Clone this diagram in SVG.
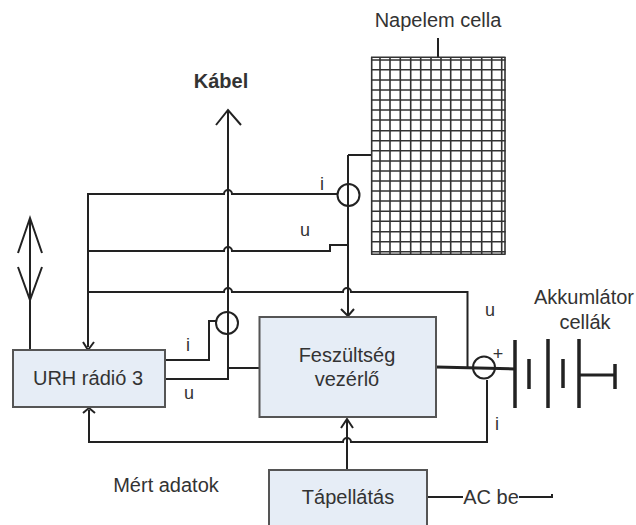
<svg xmlns="http://www.w3.org/2000/svg" width="636" height="525" viewBox="0 0 636 525">
<defs>
<style>
text{font-family:"Liberation Sans",Arial,sans-serif;font-size:20px;fill:#333;text-anchor:middle}
.s{font-size:18px}
.box{fill:#e6edf6;stroke:#555;stroke-width:2}
.w{fill:none;stroke:#222;stroke-width:2}
.g{fill:none;stroke:#333;stroke-width:1.600}
.p{fill:none;stroke:#222;stroke-width:3}
.c{fill:none;stroke:#222;stroke-width:2}
</style>
</defs>
<rect width="636" height="525" fill="#fff"/>
<g id="connectors">
<path class="w" d="M228 110V368H259M165 379H228V368M165 360H209V321H216"/>
<path class="w" d="M216 125L228 110L241 125"/>
<path class="w" d="M88 347V194H224a4 4 0 0 1 8 0H337"/>
<path class="w" d="M89 251H224a4 4 0 0 1 8 0H330V245H348"/>
<path class="w" d="M89 292H224a4 4 0 0 1 8 0H343a4 4 0 0 1 8 0H467.500V367"/>
<path class="w" d="M348 155H372M348 155V316"/>
<path class="w" d="M83 342L88 350L94 342"/>
<path class="w" d="M341 309L348 316L354 309"/>
<path class="w" d="M30 350V218"/>
<path class="w" d="M18 253L30 218L42 253M18 267L30 300L42 267"/>
<path class="w" d="M89 410V442H343a4 4 0 0 1 8 0H487V380"/>
<path class="w" d="M83 413L89 408L95 413"/>
<path class="w" d="M347 470V419"/>
<path class="w" d="M341 428L347 419L353 428"/>
<path class="p" d="M436 367L515 369"/>
<path class="w" d="M427 497H463M519 497H552V494"/>
<path class="w" d="M438 38V57"/>
</g>
<g id="napelem-cella">
<path class="g" d="M371.700 57V254.500M380 57V254.500M390 57V254.500M400.300 57V254.500M410.700 57V254.500M420.700 57V254.500M431 57V254.500M441 57V254.500M450.700 57V254.500M461 57V254.500M471 57V254.500M481.700 57V254.500M491.700 57V254.500M501.700 57V254.500M505 57V254.500"/>
<path class="g" d="M371 57.300H505.500M371 60H505.500M371 69.700H505.500M371 80H505.500M371 90H505.500M371 100H505.500M371 110H505.500M371 120H505.500M371 130.700H505.500M371 140.700H505.500M371 150.700H505.500M371 161H505.500M371 171H505.500M371 181H505.500M371 191H505.500M371 201H505.500M371 211.300H505.500M371 221.300H505.500M371 231.700H505.500M371 241.700H505.500M371 251.700H505.500M371 254.300H505.500"/>
<text x="438" y="27">Napelem cella</text>
</g>
<g id="urh-radio"><rect class="box" x="13" y="350" width="152" height="57"/><text x="88" y="385">URH rádió 3</text></g>
<g id="feszultseg-vezerlo"><rect class="box" x="259.500" y="317" width="176.500" height="100"/><text x="347" y="362">Feszültség</text><text x="347" y="386">vezérlő</text></g>
<g id="tapellatas"><rect class="box" x="269" y="470" width="158" height="60"/><text x="348" y="504">Tápellátás</text></g>
<g id="sensor-top"><circle class="c" cx="348.500" cy="195" r="11"/></g>
<g id="sensor-mid"><circle class="c" cx="227" cy="323" r="11"/></g>
<g id="sensor-right"><circle class="c" cx="484" cy="367.500" r="11"/></g>
<g id="akkumulator">
<path d="M515 340V408M548 339V408M579 339V408M529 359V389M563 359V388M615 364V389" fill="none" stroke="#222" stroke-width="3.500"/>
<path d="M579 375H615" fill="none" stroke="#222" stroke-width="3"/>
<text x="584" y="304">Akkumlátor</text><text x="585" y="329">cellák</text>
<text x="498" y="360" class="s">+</text>
</g>
<g id="labels">
<text x="221" y="88" style="font-weight:bold">Kábel</text>
<text x="322" y="190" class="s">i</text>
<text x="305" y="236" class="s">u</text>
<text x="188" y="351" class="s">i</text>
<text x="189" y="399" class="s">u</text>
<text x="490" y="316" class="s">u</text>
<text x="497" y="430" class="s">i</text>
<text x="166" y="492">Mért adatok</text>
<text x="491" y="504">AC be</text>
</g>
</svg>
